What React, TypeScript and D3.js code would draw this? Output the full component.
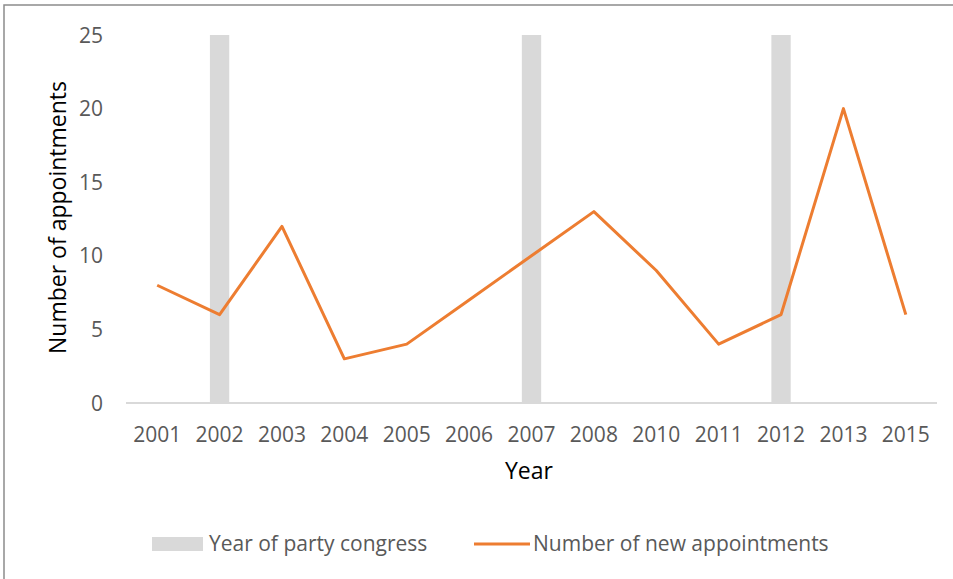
import React from "react";
import * as d3 from "d3";

const years = ["2001", "2002", "2003", "2004", "2005", "2006", "2007", "2008", "2010", "2011", "2012", "2013", "2015"];
const appointments = [8, 6, 12, 3, 4, 7, 10, 13, 9, 4, 6, 20, 6];
const congressYears = ["2002", "2007", "2012"];
const congressHeight = 25;
const yTicks = [0, 5, 10, 15, 20, 25];

const W = 953;
const H = 579;
const FONT = "'Open Sans', sans-serif";

export default function App() {
  const x = d3.scaleBand<string>().domain(years).range([126, 937]).paddingInner(0).paddingOuter(0);
  const y = d3.scaleLinear().domain([0, 25]).range([403, 35]);
  const barW = x.bandwidth() * 0.31;
  const line = d3
    .line<number>()
    .x((_, i) => (x(years[i]) as number) + x.bandwidth() / 2)
    .y((d) => y(d));

  return (
    <svg
      width={W}
      height={H}
      style={{ position: "absolute", left: 0, top: 0, background: "#fff" }}
      fontFamily={FONT}
    >
      <rect x={4} y={5} width={W + 10} height={H + 10} fill="#fff" stroke="#8c8c8c" strokeWidth={1.5} />
      {congressYears.map((yr) => (
        <rect
          key={yr}
          x={(x(yr) as number) + x.bandwidth() / 2 - barW / 2}
          y={y(congressHeight)}
          width={barW}
          height={y(0) - y(congressHeight)}
          fill="#d9d9d9"
        />
      ))}
      <line x1={126} x2={937} y1={y(0)} y2={y(0)} stroke="#d9d9d9" strokeWidth={2} />
      {yTicks.map((t) => (
        <text key={t} x={103} y={y(t)} dy="0.36em" textAnchor="end" fontSize={21} fill="#595959">
          {t}
        </text>
      ))}
      {years.map((yr) => (
        <text
          key={yr}
          x={(x(yr) as number) + x.bandwidth() / 2}
          y={442}
          textAnchor="middle"
          fontSize={21}
          fill="#595959"
        >
          {yr}
        </text>
      ))}
      <path d={line(appointments) || ""} fill="none" stroke="#ed7d31" strokeWidth={3} strokeLinejoin="round" />
      <text x={529} y={479} textAnchor="middle" fontSize={23} fill="#000">
        Year
      </text>
      <text
        transform={`translate(66, ${(80 + 355) / 2}) rotate(-90)`}
        textAnchor="middle"
        fontSize={23}
        fill="#000"
      >
        Number of appointments
      </text>
      <rect x={152} y={537} width={51} height={14} fill="#d9d9d9" />
      <text x={209} y={551} fontSize={21} fill="#595959">
        Year of party congress
      </text>
      <line x1={474} x2={530} y1={544} y2={544} stroke="#ed7d31" strokeWidth={3} />
      <text x={533} y={551} fontSize={21} fill="#595959">
        Number of new appointments
      </text>
    </svg>
  );
}
